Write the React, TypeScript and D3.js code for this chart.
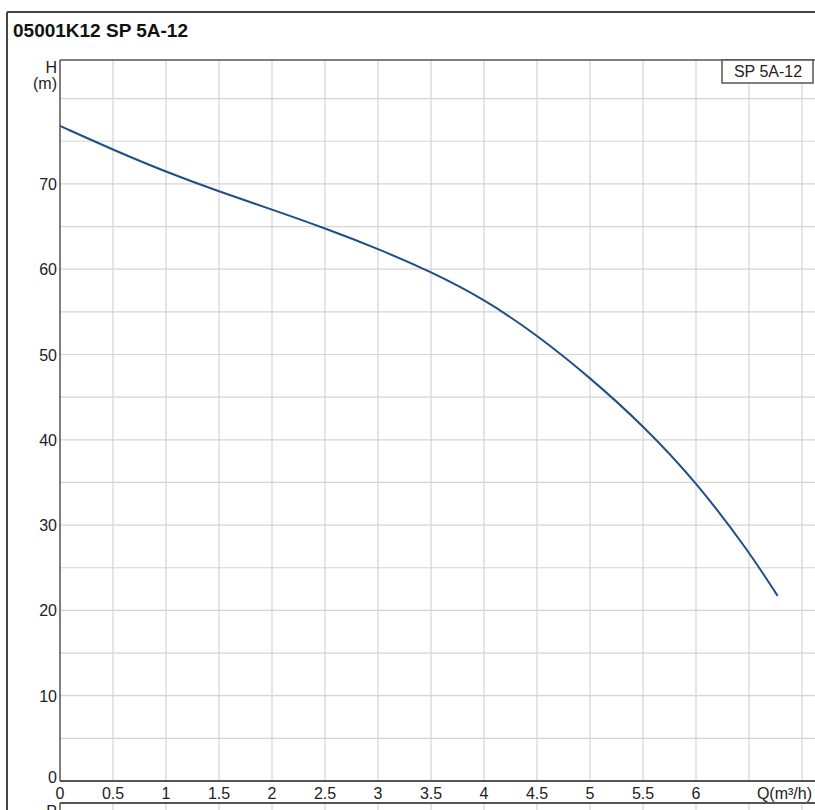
import React from "react";
import * as d3 from "d3";

const flowQ = [0, 0.5, 1, 1.5, 2, 2.5, 3, 3.5, 4, 4.5, 5, 5.5, 6, 6.5, 6.77];
const headH = [76.8, 74.0, 71.4, 69.1, 67.0, 64.8, 62.4, 59.7, 56.5, 52.3, 47.3, 41.7, 35.1, 26.9, 21.7];
const xTicks = [0, 0.5, 1, 1.5, 2, 2.5, 3, 3.5, 4, 4.5, 5, 5.5, 6];
const xGrid = [0.5, 1, 1.5, 2, 2.5, 3, 3.5, 4, 4.5, 5, 5.5, 6, 6.5, 7];
const yTicks = [0, 10, 20, 30, 40, 50, 60, 70];
const yGrid = [5, 10, 15, 20, 25, 30, 35, 40, 45, 50, 55, 60, 65, 70, 75, 80];
const title = "05001K12 SP 5A-12";
const seriesName = "SP 5A-12";

export default function App() {
  const W = 815, H = 810;
  const left = 60, top = 60, bottom = 781;
  const x = d3.scaleLinear().domain([0, 1]).range([left, left + 106]);
  const y = d3.scaleLinear().domain([0, 10]).range([bottom, bottom - 85.3]);
  const line = d3.line<number>().x((_, i) => x(flowQ[i])).y((d) => y(d)).curve(d3.curveBasis);
  const font = "Arial, 'Liberation Sans', sans-serif";
  const gridC = "#d4d4d4";
  const axisC = "#555";
  const fs = 16;
  return (
    <svg width={W} height={H} style={{ position: "absolute", left: 0, top: 0, background: "#fff" }} fontFamily={font}>
      <rect x={0} y={0} width={W} height={H} fill="#fff" />
      {/* outer frame */}
      <line x1={7} y1={12} x2={W} y2={12} stroke="#444" strokeWidth={2} />
      <line x1={7} y1={12} x2={7} y2={H} stroke="#444" strokeWidth={2} />
      <text x={13} y={37} fontSize={19} fontWeight="bold" fill="#111">{title}</text>
      {/* grid */}
      {yGrid.map((v) => (
        <line key={"hy" + v} x1={left} x2={W} y1={y(v)} y2={y(v)} stroke={gridC} strokeWidth={1.2} />
      ))}
      {xGrid.map((v) => (
        <line key={"vx" + v} x1={x(v)} x2={x(v)} y1={top} y2={bottom} stroke={gridC} strokeWidth={1.2} />
      ))}
      {/* lower panel grid */}
      {xGrid.map((v) => (
        <line key={"vx2" + v} x1={x(v)} x2={x(v)} y1={803} y2={H} stroke={gridC} strokeWidth={1.2} />
      ))}
      {/* axes */}
      <line x1={left} y1={top} x2={W} y2={top} stroke={axisC} strokeWidth={1.5} />
      <line x1={left} y1={top} x2={left} y2={bottom} stroke={axisC} strokeWidth={1.5} />
      <line x1={left} y1={bottom} x2={W} y2={bottom} stroke={axisC} strokeWidth={2} />
      <line x1={left} y1={803} x2={W} y2={803} stroke={axisC} strokeWidth={2} />
      <line x1={left} y1={803} x2={left} y2={H} stroke={axisC} strokeWidth={1.5} />
      <text x={57} y={817} fontSize={fs} textAnchor="end" fill="#222">P</text>
      {/* y labels */}
      <text x={57} y={73} fontSize={fs} textAnchor="end" fill="#222">H</text>
      <text x={57} y={89} fontSize={fs} textAnchor="end" fill="#222">(m)</text>
      {yTicks.map((v) => (
        <text key={"yt" + v} x={57} y={y(v) + (v === 0 ? 2 : 6)} fontSize={fs} textAnchor="end" fill="#222">{v}</text>
      ))}
      {xTicks.map((v) => (
        <text key={"xt" + v} x={x(v)} y={799} fontSize={fs} textAnchor="middle" fill="#222">{v}</text>
      ))}
      <text x={812} y={799} fontSize={fs} textAnchor="end" fill="#222">Q(m³/h)</text>
      {/* legend */}
      <rect x={722} y={60} width={91} height={23} fill="#fff" stroke={axisC} strokeWidth={1.5} />
      <text x={768} y={77} fontSize={16} textAnchor="middle" fill="#222">{seriesName}</text>
      {/* curve */}
      <path d={line(headH) || ""} fill="none" stroke="#1f4f86" strokeWidth={2} />
    </svg>
  );
}
